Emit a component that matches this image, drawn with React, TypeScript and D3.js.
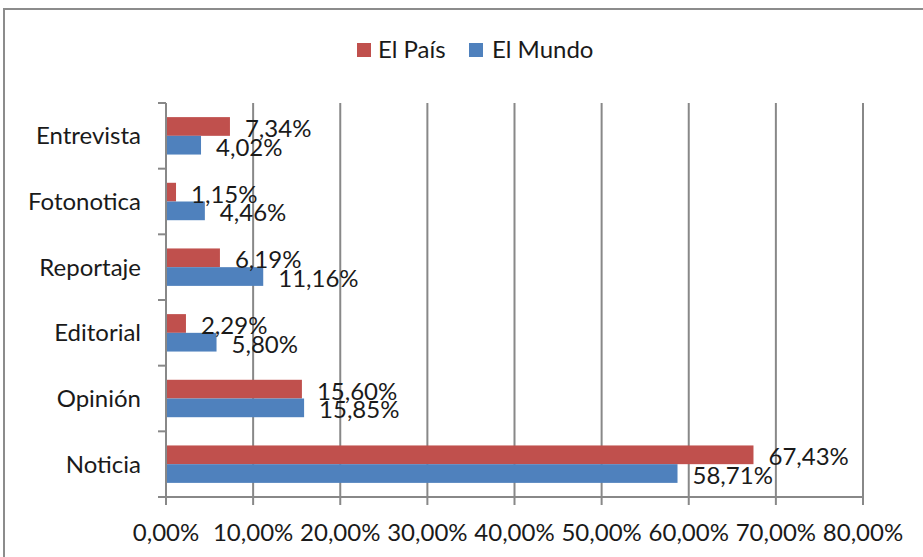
import React, { useRef, useEffect } from 'react';
import * as d3 from 'd3';

const categories = ['Entrevista', 'Fotonotica', 'Reportaje', 'Editorial', 'Opinión', 'Noticia'];
const elPais = [7.34, 1.15, 6.19, 2.29, 15.6, 67.43];
const elMundo = [4.02, 4.46, 11.16, 5.8, 15.85, 58.71];
const seriesNames = ['El País', 'El Mundo'];
const seriesColors = ['#C0504D', '#4F81BD'];
const xTicks = [0, 10, 20, 30, 40, 50, 60, 70, 80];

const fmt = (v: number) => v.toFixed(2).replace('.', ',') + '%';

const App: React.FC = () => {
    const svgRef = useRef<SVGSVGElement>(null);

    useEffect(() => {
        if (!svgRef.current) return;
        document.body.style.margin = '0';
        const svg = d3.select(svgRef.current);
        svg.selectAll('*').remove();

        const font = 'Lato, "Noto Sans", sans-serif';
        const grid = '#888888';

        // chart frame
        svg.append('rect')
            .attr('x', 4).attr('y', 9)
            .attr('width', 960).attr('height', 600)
            .attr('fill', '#fff')
            .attr('stroke', '#8c8c8c')
            .attr('stroke-width', 2);

        const x = d3.scaleLinear().domain([0, 80]).range([166, 863]);
        const y = d3.scaleBand<string>().domain(categories).range([103, 497])
            .paddingInner(0.43).paddingOuter(0.215);
        const ySub = d3.scaleBand<string>().domain(seriesNames).range([0, y.bandwidth()]);

        // vertical grid lines
        svg.append('g').selectAll('line')
            .data(xTicks.slice(1))
            .join('line')
            .attr('x1', d => x(d)).attr('x2', d => x(d))
            .attr('y1', 103).attr('y2', 505)
            .attr('stroke', grid).attr('stroke-width', 2);

        // axes
        svg.append('line')
            .attr('x1', x(0)).attr('x2', x(0)).attr('y1', 103).attr('y2', 505)
            .attr('stroke', grid).attr('stroke-width', 2);
        svg.append('line')
            .attr('x1', x(0)).attr('x2', x(80)).attr('y1', 497).attr('y2', 497)
            .attr('stroke', grid).attr('stroke-width', 2);

        // category boundary ticks on y axis
        const step = y.step();
        const bounds = d3.range(categories.length + 1).map(i => 103 + i * step);
        svg.append('g').selectAll('line')
            .data(bounds)
            .join('line')
            .attr('x1', 158).attr('x2', x(0))
            .attr('y1', d => d).attr('y2', d => d)
            .attr('stroke', grid).attr('stroke-width', 2);

        // x tick labels
        svg.append('g').selectAll('text')
            .data(xTicks)
            .join('text')
            .attr('x', d => x(d))
            .attr('y', 541)
            .attr('text-anchor', 'middle')
            .attr('font-family', font)
            .attr('font-size', 24)
            .attr('fill', '#1a1a1a')
            .text(d => fmt(d));

        // category labels
        svg.append('g').selectAll('text')
            .data(categories)
            .join('text')
            .attr('x', 141)
            .attr('y', d => (y(d) ?? 0) + y.bandwidth() / 2)
            .attr('dy', '0.35em')
            .attr('text-anchor', 'end')
            .attr('font-family', font)
            .attr('font-size', 24)
            .attr('fill', '#1a1a1a')
            .text(d => d);

        const seriesData = [elPais, elMundo];
        seriesData.forEach((vals, si) => {
            const name = seriesNames[si];
            const g = svg.append('g');
            g.selectAll('rect')
                .data(vals)
                .join('rect')
                .attr('x', x(0) + 1)
                .attr('y', (_, i) => (y(categories[i]) ?? 0) + (ySub(name) ?? 0))
                .attr('width', d => x(d) - x(0) - 1)
                .attr('height', ySub.bandwidth())
                .attr('fill', seriesColors[si]);
        });

        // data labels drawn on top
        seriesData.forEach((vals, si) => {
            const name = seriesNames[si];
            svg.append('g').selectAll('text')
                .data(vals)
                .join('text')
                .attr('x', d => x(d) + 15)
                .attr('y', (_, i) => (y(categories[i]) ?? 0) + (ySub(name) ?? 0) + ySub.bandwidth() / 2 + 2)
                .attr('dy', '0.35em')
                .attr('font-family', font)
                .attr('font-size', 24)
                .attr('fill', '#1a1a1a')
                .text(d => fmt(d));
        });

        // legend
        const legend = [
            { name: seriesNames[0], color: seriesColors[0], sx: 357, tx: 378 },
            { name: seriesNames[1], color: seriesColors[1], sx: 469, tx: 492 },
        ];
        legend.forEach(l => {
            svg.append('rect')
                .attr('x', l.sx).attr('y', 43)
                .attr('width', 14).attr('height', 14)
                .attr('fill', l.color);
            svg.append('text')
                .attr('x', l.tx).attr('y', 50)
                .attr('dy', '0.35em')
                .attr('font-family', font)
                .attr('font-size', 24)
                .attr('fill', '#1a1a1a')
                .text(l.name);
        });
    }, []);

    return (
        <svg
            ref={svgRef}
            width={923}
            height={557}
            style={{ position: 'absolute', left: 0, top: 0, display: 'block' }}
        />
    );
};

export default App;
